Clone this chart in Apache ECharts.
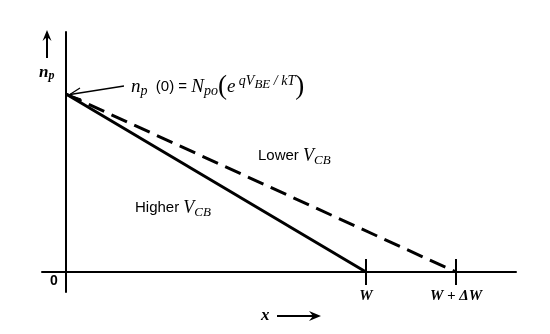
<!DOCTYPE html>
<html>
<head>
<meta charset="utf-8">
<script src="https://cdn.jsdelivr.net/npm/echarts@6/dist/echarts.min.js"></script>
<style>html,body{margin:0;padding:0;background:#fff;}#c{width:550px;height:334px;}</style>
</head>
<body>
<div id="c"></div>
<script>
// Data (x in units of the base width; W = 10, W + ΔW = 13)
const npZero = 8.9;                 // n_p(0) on the y scale
const higherVcbX = [0, 10];
const higherVcbY = [npZero, 0];
const lowerVcbX = [0, 13];
const lowerVcbY = [npZero, 0];
const tickValues = [10, 13];
const tickLabels = ['W', 'W + ΔW'];

const chart = echarts.init(document.getElementById('c'), null, {renderer: 'canvas'});
const serifI = 'Liberation Serif';
const sans = 'Liberation Sans';

function pairs(xs, ys) { return xs.map((x, i) => [x, ys[i]]); }

const tickSeries = tickValues.map(v => ({
  type: 'line', data: [[v, -0.65], [v, 0.65]], symbol: 'none', silent: true,
  lineStyle: {color: '#000', width: 2}, z: 3
}));

const mathRich = {
  i: {fontFamily: serifI, fontStyle: 'italic', fontSize: 18, color: '#000'},
  t: {fontFamily: sans, fontSize: 15, color: '#000'},
  s: {fontFamily: serifI, fontStyle: 'italic', fontSize: 13, color: '#000', padding: [9, 0, 0, 0]}
};

const option = {
  animation: false,
  backgroundColor: '#fff',
  grid: {left: 42, right: 34, top: 32, bottom: 42},
  xAxis: {
    type: 'value', min: -0.8, max: 15,
    axisLine: {onZero: true, lineStyle: {color: '#000', width: 2}},
    axisTick: {show: false},
    splitLine: {show: false},
    axisLabel: {
      customValues: tickValues,
      margin: -3,
      formatter: v => tickLabels[tickValues.indexOf(v)] || '',
      fontFamily: serifI, fontStyle: 'italic', fontWeight: 'bold', fontSize: 15, color: '#000'
    }
  },
  yAxis: {
    type: 'value', min: -1, max: 12,
    axisLine: {show: true, onZero: true, lineStyle: {color: '#000', width: 2}},
    axisTick: {show: false},
    splitLine: {show: false},
    axisLabel: {show: false}
  },
  series: [
    {type: 'line', name: 'Higher VCB', data: pairs(higherVcbX, higherVcbY), symbol: 'none',
     lineStyle: {color: '#000', width: 3}, z: 4},
    {type: 'line', name: 'Lower VCB', data: pairs(lowerVcbX, lowerVcbY), symbol: 'none',
     lineStyle: {color: '#000', width: 3, type: [17, 8]}, z: 4}
  ].concat(tickSeries),
  graphic: [
    // y arrow
    {type: 'line', shape: {x1: 47, y1: 58, x2: 47, y2: 33}, style: {stroke: '#000', lineWidth: 2}},
    {type: 'polygon', shape: {points: [[47, 30], [42.5, 41], [47, 37], [51.5, 41]]}, style: {fill: '#000'}},
    {type: 'text', left: 39, top: 64, style: {
      rich: {i: {fontFamily: serifI, fontStyle: 'italic', fontWeight: 'bold', fontSize: 17, color: '#000'},
             sub: {fontFamily: serifI, fontStyle: 'italic', fontWeight: 'bold', fontSize: 12, color: '#000', padding: [7, 0, 0, 0]}},
      text: '{i|n}{sub|p}'}},
    // origin label
    {type: 'text', left: 50, top: 274, style: {text: '0', font: 'bold 14px ' + sans, fill: '#000'}},
    // pointer arrow
    {type: 'line', shape: {x1: 124, y1: 86, x2: 70, y2: 94.5}, style: {stroke: '#000', lineWidth: 1.3}},
    {type: 'polyline', shape: {points: [[80, 88], [69, 95], [81, 99]]}, style: {stroke: '#000', lineWidth: 1.3, fill: null}},
    // formula
    {type: 'text', left: 131, top: 73, style: {
      rich: {
        i: {fontFamily: serifI, fontStyle: 'italic', fontSize: 19, color: '#000'},
        n: {fontFamily: sans, fontSize: 15, color: '#000'},
        sub: {fontFamily: serifI, fontStyle: 'italic', fontSize: 14, color: '#000', padding: [9, 0, 0, 0]},
        big: {fontFamily: serifI, fontSize: 27, color: '#000'},
        sup: {fontFamily: serifI, fontStyle: 'italic', fontSize: 14, color: '#000', padding: [0, 0, 11, 0]},
        ssub: {fontFamily: serifI, fontStyle: 'italic', fontSize: 13, color: '#000', padding: [0, 0, 3, 0]}
      },
      text: '{i|n}{sub|p}{n|  (0) = }{i|N}{sub|po}{big|(}{i|e}{sup| qV}{ssub|BE}{sup| / kT}{big|)}'}},
    // Lower V_CB
    {type: 'text', left: 258, top: 147, style: {rich: mathRich, text: '{t|Lower }{i|V}{s|CB}'}},
    // Higher V_CB
    {type: 'text', left: 135, top: 199, style: {rich: mathRich, text: '{t|Higher }{i|V}{s|CB}'}},
    // x arrow
    {type: 'text', left: 261, top: 307, style: {text: 'x', font: 'italic bold 17px ' + serifI, fill: '#000'}},
    {type: 'line', shape: {x1: 277, y1: 316, x2: 316, y2: 316}, style: {stroke: '#000', lineWidth: 2}},
    {type: 'polygon', shape: {points: [[321, 316], [309, 311], [313, 316], [309, 321]]}, style: {fill: '#000'}}
  ]
};
chart.setOption(option);
</script>
</body>
</html>
